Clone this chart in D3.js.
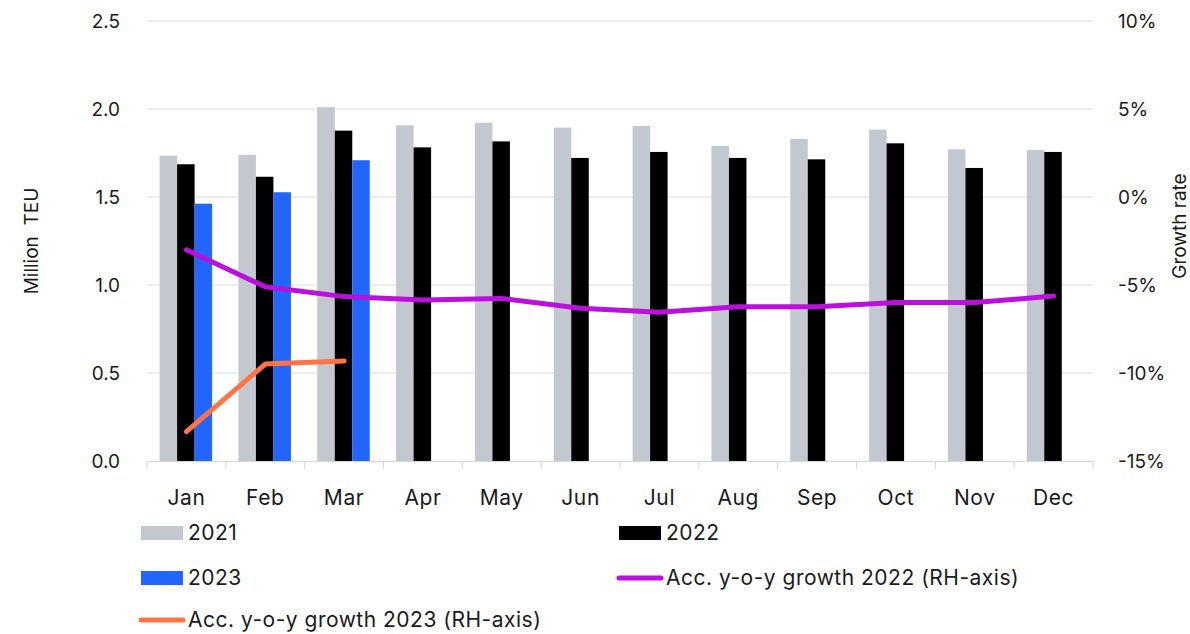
<!DOCTYPE html>
<html>
<head>
<meta charset="utf-8">
<script src="https://cdn.jsdelivr.net/npm/d3@7"></script>
<style>
  body { margin: 0; background: #fff; }
  text { font-family: "Inter", "Noto Sans", sans-serif; fill: #1a1a1a; }
</style>
</head>
<body>
<div id="chart"></div>
<script>
// data
var months = ["Jan", "Feb", "Mar", "Apr", "May", "Jun", "Jul", "Aug", "Sep", "Oct", "Nov", "Dec"];
var teu2021 = [1.735, 1.740, 2.010, 1.907, 1.922, 1.894, 1.903, 1.790, 1.830, 1.883, 1.771, 1.767];
var teu2022 = [1.686, 1.615, 1.877, 1.782, 1.816, 1.722, 1.756, 1.722, 1.714, 1.805, 1.665, 1.756];
var teu2023 = [1.462, 1.527, 1.709];
var growth2022 = [-3.0, -5.1, -5.66, -5.85, -5.76, -6.32, -6.55, -6.23, -6.23, -6.0, -6.0, -5.63];
var growth2023 = [-13.33, -9.49, -9.32];
var leftTicks = [0, 0.5, 1.0, 1.5, 2.0, 2.5];
var rightTicks = [-15, -10, -5, 0, 5, 10];

var W = 1190, H = 634;
var pLeft = 147, pRight = 1093, pTop = 21, pBottom = 461;

var svg = d3.select("#chart").append("svg")
    .attr("width", W)
    .attr("height", H);

var x = d3.scaleBand().domain(months).range([pLeft, pRight]).paddingInner(0).paddingOuter(0);
var series = ["2021", "2022", "2023"];
var xs = d3.scaleBand().domain(series).range([12.6, 12.6 + 52.5]);
var y = d3.scaleLinear().domain([0, 2.5]).range([pBottom, pTop]);
var y2 = d3.scaleLinear().domain([-15, 10]).range([pBottom, pTop]);

// gridlines
svg.append("g").selectAll("line")
    .data(leftTicks.filter(function(d){ return d > 0; }))
    .join("line")
    .attr("x1", pLeft).attr("x2", pRight)
    .attr("y1", function(d){ return y(d); }).attr("y2", function(d){ return y(d); })
    .style("stroke", "#dcdcdc").style("stroke-width", 1);

// bars
var colors = {"2021": "#c3c7cf", "2022": "#000000", "2023": "#2266ff"};
var barData = [];
months.forEach(function(m, i){
    barData.push({m: m, s: "2021", v: teu2021[i]});
    barData.push({m: m, s: "2022", v: teu2022[i]});
    if (i < teu2023.length) barData.push({m: m, s: "2023", v: teu2023[i]});
});
svg.append("g").selectAll("rect")
    .data(barData)
    .join("rect")
    .attr("x", function(d){ return x(d.m) + xs(d.s); })
    .attr("width", xs.bandwidth())
    .attr("y", function(d){ return y(d.v); })
    .attr("height", function(d){ return y(0) - y(d.v); })
    .style("fill", function(d){ return colors[d.s]; });

// x axis
var xAxis = d3.axisBottom(x).tickSize(0).tickPadding(29);
var gx = svg.append("g").attr("transform", "translate(0," + pBottom + ")").call(xAxis);
gx.select(".domain").style("stroke", "#d6d6d6");
gx.selectAll("text").style("font-size", "21px").style("letter-spacing", "0.6px");
gx.selectAll(".sep")
    .data(d3.range(13))
    .join("line")
    .attr("x1", function(i){ return pLeft + i * x.step(); })
    .attr("x2", function(i){ return pLeft + i * x.step(); })
    .attr("y1", 0).attr("y2", 8)
    .style("stroke", "#d6d6d6");

// left axis
var yAxis = d3.axisLeft(y).tickValues(leftTicks).tickFormat(d3.format(".1f")).tickSize(0).tickPadding(27);
var gy = svg.append("g").attr("transform", "translate(" + pLeft + ",0)").call(yAxis);
gy.select(".domain").remove();
gy.selectAll("text").style("font-size", "19px");

// right axis
var y2Axis = d3.axisRight(y2).tickValues(rightTicks).tickFormat(function(d){ return d + "%"; }).tickSize(0).tickPadding(25);
var gy2 = svg.append("g").attr("transform", "translate(" + pRight + ",0)").call(y2Axis);
gy2.select(".domain").remove();
gy2.selectAll("text").style("font-size", "19px");

// axis titles
svg.append("text")
    .attr("transform", "translate(38,241) rotate(-90)")
    .attr("text-anchor", "middle")
    .style("font-size", "19px")
    .text("Million\u00a0\u00a0TEU");
svg.append("text")
    .attr("transform", "translate(1186,226) rotate(-90)")
    .attr("text-anchor", "middle")
    .style("font-size", "19px")
    .text("Growth rate");

// lines
var line = d3.line()
    .x(function(d, i){ return x(months[i]) + x.bandwidth() / 2; })
    .y(function(d){ return y2(d); });
svg.append("path")
    .datum(growth2022)
    .attr("d", line)
    .style("fill", "none").style("stroke", "#bb10dd").style("stroke-width", 5)
    .style("stroke-linecap", "round").style("stroke-linejoin", "round");
svg.append("path")
    .datum(growth2023)
    .attr("d", line)
    .style("fill", "none").style("stroke", "#ff7344").style("stroke-width", 5)
    .style("stroke-linecap", "round").style("stroke-linejoin", "round");

// legend
var legend = [
    {label: "2021", type: "rect", color: "#c3c7cf", x: 141, y: 533},
    {label: "2022", type: "rect", color: "#000000", x: 619, y: 533},
    {label: "2023", type: "rect", color: "#2266ff", x: 141, y: 578},
    {label: "Acc. y-o-y growth 2022 (RH-axis)", type: "line", color: "#bb10dd", x: 619, y: 578},
    {label: "Acc. y-o-y growth 2023 (RH-axis)", type: "line", color: "#ff7344", x: 141, y: 620}
];
var lg = svg.append("g").selectAll("g").data(legend).join("g")
    .attr("transform", function(d){ return "translate(" + d.x + "," + d.y + ")"; });
lg.filter(function(d){ return d.type === "rect"; }).append("rect")
    .attr("x", 0).attr("y", -7).attr("width", 42).attr("height", 14)
    .style("fill", function(d){ return d.color; });
lg.filter(function(d){ return d.type === "line"; }).append("line")
    .attr("x1", 0).attr("x2", 42).attr("y1", 0).attr("y2", 0)
    .style("stroke", function(d){ return d.color; }).style("stroke-width", 5)
    .style("stroke-linecap", "round");
lg.append("text")
    .attr("x", 47).attr("y", 0).attr("dy", "0.35em")
    .style("font-size", "21px").style("letter-spacing", "0.5px")
    .text(function(d){ return d.label; });
</script>
</body>
</html>
